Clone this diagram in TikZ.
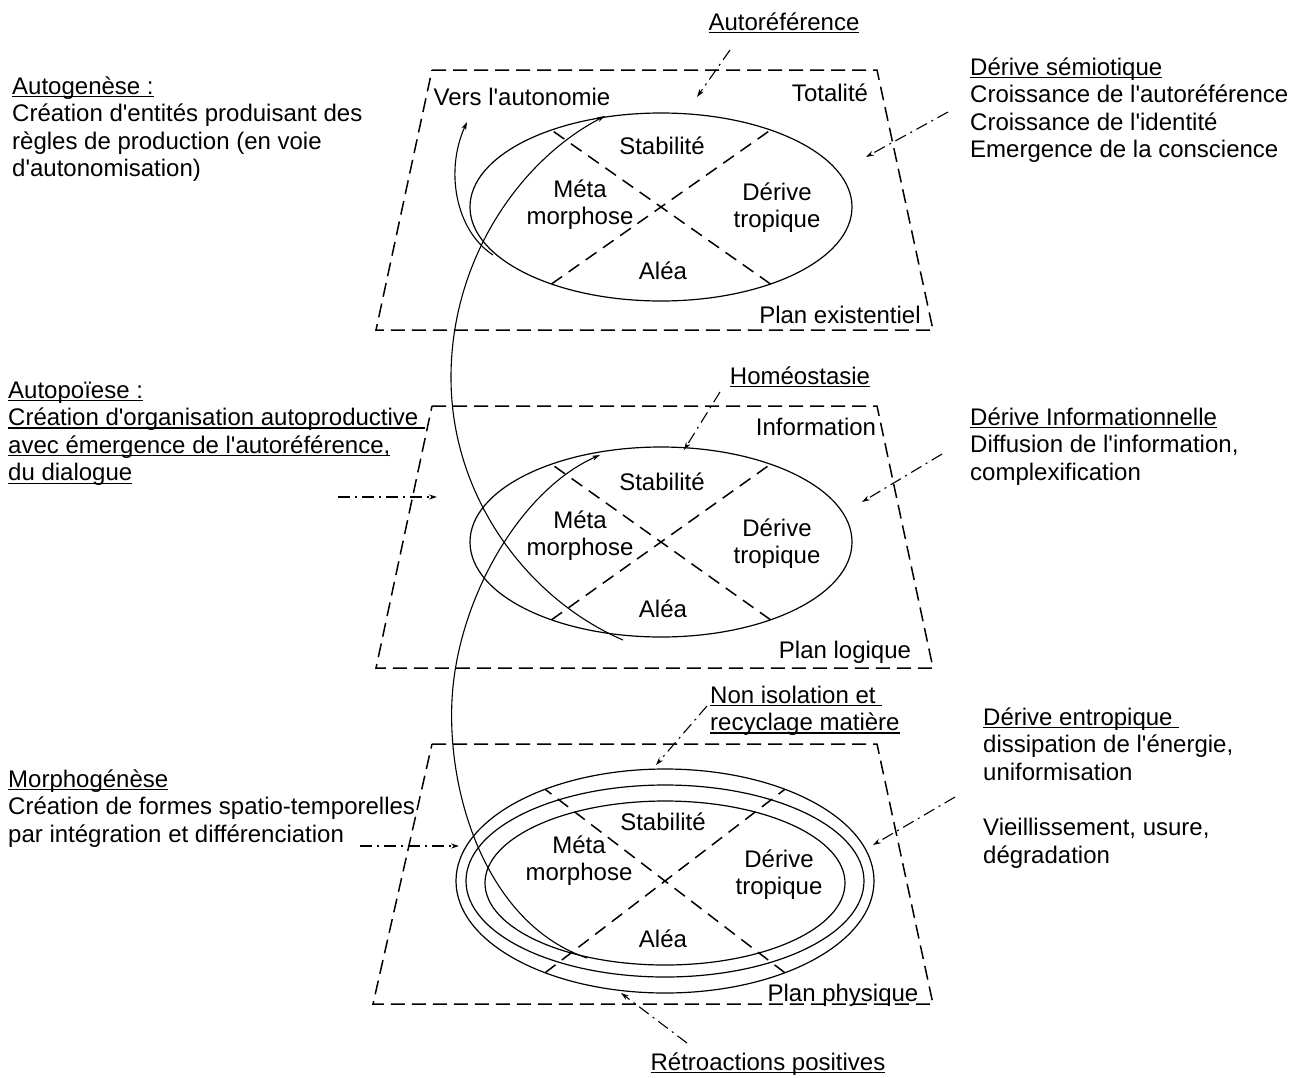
\documentclass[tikz,border=0pt]{standalone}
\usepackage{fontspec}
\setmainfont{Liberation Sans}[Ligatures=TeXOff]
\usetikzlibrary{arrows.meta,calc}
\newcommand\ulx[1]{\setbox0=\hbox{#1}\rlap{\rule[-3.2pt]{\wd0}{1.5pt}}\box0}
\begin{document}
\begin{tikzpicture}[x=1pt,y=-1pt,
  plane/.style={line width=1.5pt, dash pattern=on 14pt off 7pt},
  ring/.style={line width=1.2pt},
  xline/.style={line width=1.5pt, dash pattern=on 13pt off 8pt},
  flow/.style={line width=1.1pt, -{Stealth[length=8pt,width=5pt]}},
  pointer/.style={line width=1.1pt, dash pattern=on 12pt off 5pt on 2pt off 5pt, -{Stealth[length=8pt,width=5pt]}},
  txt/.style={inner sep=0pt, font=\fontsize{24}{27.6}\selectfont},
  lbl/.style={txt, anchor=base, align=center},
  blk/.style={txt, anchor=base west, align=left}]
\useasboundingbox (0,0) rectangle (1307,1077);

% planes
\draw[plane] (432,70) -- (877,70) -- (933,330) -- (376,330) -- cycle;
\draw[plane] (432,406) -- (877,406) -- (933,668) -- (376,668) -- cycle;
\draw[plane] (432,744) -- (877,744) -- (933,1004) -- (373,1004) -- cycle;

% ellipses
\coordinate (e1) at (661,207);
\coordinate (e2) at (661,542);
\coordinate (e3) at (665,881);
\coordinate (e3i) at (665,883);
\draw[ring] (e1) ellipse [x radius=191, y radius=94];
\draw[ring] (e2) ellipse [x radius=191, y radius=95];
\draw[ring] (e3) ellipse [x radius=209, y radius=112];
\draw[ring] (e3) ellipse [x radius=199, y radius=96];
\draw[ring] (e3i) ellipse [x radius=180, y radius=82];

% cross lines
\draw[xline] ($(e1)+(125:191 and 94)$) -- ($(e1)+(-55:191 and 94)$);
\draw[xline] ($(e1)+(55:191 and 94)$) -- ($(e1)+(235:191 and 94)$);
\draw[xline] ($(e2)+(125:191 and 95)$) -- ($(e2)+(-55:191 and 95)$);
\draw[xline] ($(e2)+(55:191 and 95)$) -- ($(e2)+(235:191 and 95)$);
\draw[xline] ($(e3)+(125:209 and 112)$) -- ($(e3)+(-55:209 and 112)$);
\draw[xline] ($(e3)+(55:209 and 112)$) -- ($(e3)+(235:209 and 112)$);

% labels inside planes (base = baseline of last line)
\node[lbl] (vers) at (522,105) {Vers l'autonomie};
\node[lbl] (tot) at (830,101) {Totalité};
\node[lbl] (stab1) at (662,154) {Stabilité};
\node[lbl] (meta1) at (580,224.6) {Méta\\morphose};
\node[lbl] (der1) at (777,227.6) {Dérive\\tropique};
\node[lbl] (alea1) at (663,279) {Aléa};
\node[lbl] (plan1) at (840,323) {Plan existentiel};

\node[lbl] (info) at (816,435) {Information};
\node[lbl] (stab2) at (662,490) {Stabilité};
\node[lbl] (meta2) at (580,555.6) {Méta\\morphose};
\node[lbl] (der2) at (777,563.6) {Dérive\\tropique};
\node[lbl] (alea2) at (663,617) {Aléa};
\node[lbl] (plan2) at (845,658) {Plan logique};

\node[lbl] (stab3) at (663,830) {Stabilité};
\node[lbl] (meta3) at (579,880.6) {Méta\\morphose};
\node[lbl] (der3) at (779,894.6) {Dérive\\tropique};
\node[lbl] (alea3) at (663,947) {Aléa};
\node[lbl] (plan3) at (843,1001) {Plan physique};

% outer texts
\node[lbl] (autoref) at (784,30) {\ulx{Autoréférence}};
\node[lbl] (homeo) at (800,384) {\ulx{Homéostasie}};
\node[blk] (nonisol) at (710,730.6) {\ulx{Non isolation et\ }\\\ulx{recyclage matière}};
\node[lbl] (retro) at (768,1070) {\ulx{Rétroactions positives}};

\node[blk] (autogen) at (12,176.8) {\ulx{Autogenèse :}\\Création d'entités produisant des\\règles de production (en voie\\d'autonomisation)};
\node[blk] (autopo) at (8,480.8) {\ulx{Autopoïese :}\\\ulx{Création d'organisation autoproductive\ }\\\ulx{avec émergence de l'autoréférence,}\\\ulx{du dialogue}};
\node[blk] (morpho) at (8,842.2) {\ulx{Morphogénèse}\\Création de formes spatio-temporelles\\par intégration et différenciation};

\node[blk] (semio) at (970,157.8) {\ulx{Dérive sémiotique}\\Croissance de l'autoréférence\\Croissance de l'identité\\Emergence de la conscience};
\node[blk] (infod) at (970,480.2) {\ulx{Dérive Informationnelle}\\Diffusion de l'information,\\complexification};
\node[blk] (entro) at (983,863) {\ulx{Dérive entropique\ }\\dissipation de l'énergie,\\uniformisation\\[27.6pt]Vieillissement, usure,\\dégradation};

% pointer arrows (dash-dot)
\coordinate (p1s) at (730,50);  \coordinate (p1e) at (697,97);
\coordinate (p2s) at (948,112); \coordinate (p2e) at (866,157);
\coordinate (p3s) at (720,392); \coordinate (p3e) at (684,450);
\coordinate (p4s) at (942,454); \coordinate (p4e) at (862,502);
\coordinate (p5s) at (338,497); \coordinate (p5e) at (437,497);
\coordinate (p6s) at (707,706); \coordinate (p6e) at (656,765);
\coordinate (p7s) at (955,797); \coordinate (p7e) at (873,845);
\coordinate (p8s) at (360,846); \coordinate (p8e) at (459,846);
\coordinate (p9s) at (687,1043); \coordinate (p9e) at (621,993);
\draw[pointer] (p1s) -- (p1e);
\draw[pointer] (p2s) -- (p2e);
\draw[pointer] (p3s) -- (p3e);
\draw[pointer] (p4s) -- (p4e);
\draw[pointer] (p5s) -- (p5e);
\draw[pointer] (p6s) -- (p6e);
\draw[pointer] (p7s) -- (p7e);
\draw[pointer] (p8s) -- (p8e);
\draw[pointer] (p9s) -- (p9e);

% spiral flows
\coordinate (c3s) at (587,958); \coordinate (c3e) at (600,455);
\coordinate (c1s) at (623,640); \coordinate (c1e) at (605,116);
\coordinate (c2s) at (493,255); \coordinate (c2e) at (467,122);
\draw[flow] (c3s) .. controls (490,925) and (447,800) .. (452,700)
                  .. controls (457,600) and (520,490) .. (c3e);
\draw[flow] (c1s) .. controls (530,600) and (452,500) .. (451,380)
                  .. controls (450,260) and (520,160) .. (c1e);
\draw[flow] (c2s) .. controls (455,230) and (445,170) .. (c2e);
\end{tikzpicture}
\end{document}
